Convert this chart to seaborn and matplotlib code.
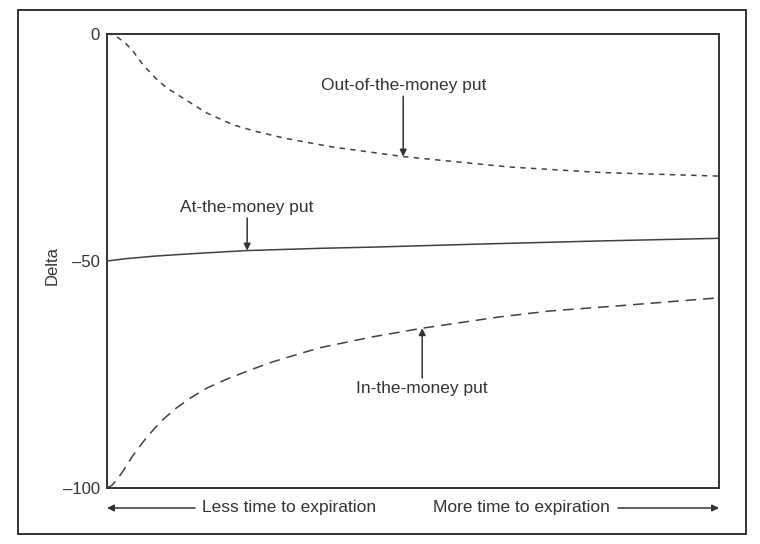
import numpy as np
import matplotlib
matplotlib.use("Agg")
import matplotlib.pyplot as plt
import pandas as pd
import seaborn as sb

# time to expiration, 0 = expiry (left), 1 = far from expiry (right)
otm_time = [0.0, 0.008, 0.016, 0.03, 0.042, 0.059, 0.082, 0.098, 0.131, 0.163, 0.206,
            0.239, 0.288, 0.369, 0.484, 0.658, 0.806, 1.0]
otm_delta = [0.0, -0.1, -0.6, -2.0, -3.7, -6.8, -10.1, -11.9, -14.7, -17.4, -20.0,
             -21.3, -22.9, -24.9, -27.0, -29.3, -30.5, -31.3]

atm_time = [0.0, 0.03, 0.08, 0.15, 0.229, 0.35, 0.446, 0.6, 0.8, 1.0]
atm_delta = [-50.0, -49.5, -48.9, -48.3, -47.7, -47.2, -46.9, -46.3, -45.6, -45.0]

itm_time = [0.0, 0.008, 0.016, 0.026, 0.042, 0.065, 0.087, 0.108, 0.136, 0.163,
            0.196, 0.234, 0.271, 0.315, 0.348, 0.43, 0.515, 0.642, 0.724, 0.833, 1.0]
itm_delta = [-100.0, -99.4, -98.2, -96.3, -92.9, -88.8, -85.5, -82.9, -80.2, -78.0,
             -76.0, -74.0, -72.2, -70.4, -69.1, -66.8, -64.8, -62.3, -61.0, -59.9, -58.1]

ytick_vals = [0, -50, -100]
ytick_labels = ["0", "\u201350", "\u2013100"]

sb.set_style("white")
plt.rcParams['font.family'] = ['Liberation Sans', 'DejaVu Sans']

ink = "#333333"
line_col = "#404040"
fs = 12.5

fig = plt.figure(figsize=(7.6, 5.44), dpi=100)
ax = fig.add_axes([0.1408, 0.1029, 0.8053, 0.8346])

df_otm = pd.DataFrame({"time": otm_time, "delta": otm_delta})
df_atm = pd.DataFrame({"time": atm_time, "delta": atm_delta})
df_itm = pd.DataFrame({"time": itm_time, "delta": itm_delta})

sb.lineplot(data=df_otm, x="time", y="delta", ax=ax, color=line_col, lw=1.1,
            sort=False)
ax.lines[-1].set_dashes([3.5, 3.5])
sb.lineplot(data=df_atm, x="time", y="delta", ax=ax, color=line_col, lw=1.1,
            sort=False)
sb.lineplot(data=df_itm, x="time", y="delta", ax=ax, color=line_col, lw=1.1,
            sort=False)
ax.lines[-1].set_dashes([7, 4.5])

ax.set_xlim(0, 1)
ax.set_ylim(-100, 0)
ax.set_xticks([])
ax.set_yticks(ytick_vals)
ax.set_yticklabels(ytick_labels)
ax.tick_params(axis='y', length=0, pad=5, labelsize=12, labelcolor=ink)
ax.set_xlabel("")
ax.set_ylabel("Delta", fontsize=12, color=ink)
ax.yaxis.set_label_coords(-0.077, 0.49)
for s in ax.spines.values():
    s.set_linewidth(1.4)
    s.set_color(ink)
    s.set_visible(True)

arr = dict(arrowstyle='-|>', color=ink, lw=1.1, mutation_scale=10, shrinkA=0, shrinkB=0)

ax.annotate("Out-of-the-money put", xy=(0.484, -27.0), xytext=(0.484, -13.0),
            ha='center', va='bottom', fontsize=fs, color=ink, arrowprops=arr)
ax.annotate("At-the-money put", xy=(0.229, -47.7), xytext=(0.229, -39.8),
            ha='center', va='bottom', fontsize=fs, color=ink, arrowprops=arr)
ax.annotate("In-the-money put", xy=(0.515, -64.8), xytext=(0.515, -76.5),
            ha='center', va='top', fontsize=fs, color=ink, arrowprops=arr)

# time direction arrows below the axes
yb = -0.044
ax.annotate("", xy=(0.0, yb), xytext=(0.144, yb), xycoords='axes fraction',
            textcoords='axes fraction', arrowprops=arr, annotation_clip=False)
ax.text(0.155, yb, "Less time to expiration", transform=ax.transAxes,
        ha='left', va='center', fontsize=fs, color=ink)
ax.annotate("", xy=(1.0, yb), xytext=(0.835, yb), xycoords='axes fraction',
            textcoords='axes fraction', arrowprops=arr, annotation_clip=False)
ax.text(0.822, yb, "More time to expiration", transform=ax.transAxes,
        ha='right', va='center', fontsize=fs, color=ink)

# outer frame
frame = plt.Rectangle((18 / 760, 10 / 544), 728 / 760, 524 / 544,
                      transform=fig.transFigure, fill=False, lw=1.4,
                      edgecolor=ink)
fig.patches.append(frame)

fig.savefig("out.png", dpi=100)
